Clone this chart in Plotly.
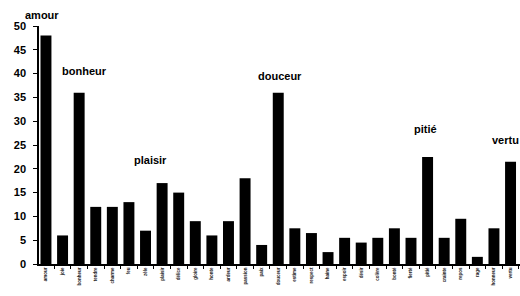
import plotly.graph_objects as go

categories = ["amour", "joie", "bonheur", "tendre", "charme", "feu", "zèle",
              "plaisir", "délice", "gloire", "honte", "ardeur", "passion", "paix",
              "douceur", "estime", "respect", "haine", "espoir", "désir",
              "colère", "bonté", "fierté", "pitié", "crainte", "repos", "rage",
              "honneur", "vertu"]
values = [48, 6, 36, 12, 12, 13, 7, 17, 15, 9, 6, 9, 18, 4, 36, 7.5, 6.5, 2.5,
          5.5, 4.5, 5.5, 7.5, 5.5, 22.5, 5.5, 9.5, 1.5, 7.5, 21.5]
y_ticks = [0, 5, 10, 15, 20, 25, 30, 35, 40, 45, 50]

highlight = ["amour", "bonheur", "plaisir", "douceur", "pitié", "vertu"]
label_offsets = {"amour": (-4, 13), "bonheur": (5, 14), "plaisir": (-12, 15),
                 "douceur": (2, 9), "pitié": (-2, 20), "vertu": (-5, 14)}

fig = go.Figure(go.Bar(x=categories, y=values, marker=dict(color="black", line=dict(width=0))))

for name in highlight:
    i = categories.index(name)
    dx, dy = label_offsets[name]
    fig.add_annotation(x=name, y=values[i], text=name, showarrow=False,
                       xshift=dx, yshift=dy, yanchor="bottom",
                       font=dict(family="Arial", size=11, color="black", weight="bold"))

fig.update_layout(
    width=520, height=296,
    margin=dict(l=39, r=0, t=26, b=32, autoexpand=False),
    paper_bgcolor="white", plot_bgcolor="white",
    bargap=0.34, showlegend=False,
)
fig.update_xaxes(range=[-0.42, 28.57], showline=True, linecolor="black", linewidth=1.5,
                 ticks="outside", tickson="boundaries", ticklen=3, tickcolor="black",
                 tickangle=-90, automargin=False,
                 tickfont=dict(family="Arial", size=4.5, color="#222", weight="bold"),
                 showgrid=False)
fig.update_yaxes(range=[0, 50], tickvals=y_ticks, showline=True, linecolor="black",
                 linewidth=1.5, ticks="outside", ticklen=4, tickcolor="black",
                 automargin=False, ticklabelstandoff=5,
                 tickfont=dict(family="Arial", size=11, color="black", weight="bold"),
                 showgrid=False, zeroline=False)

fig.write_html("out.html", config={"displayModeBar": False},
               post_script="document.body.style.margin='0';document.body.style.overflow='hidden';")
